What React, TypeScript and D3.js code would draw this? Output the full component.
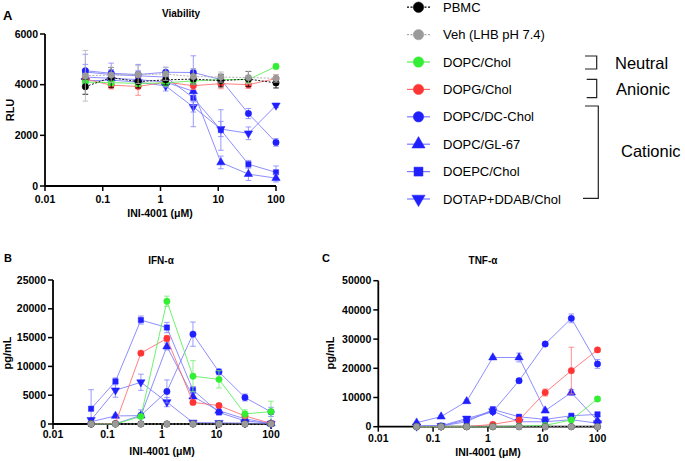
import React from 'react';
import * as d3 from 'd3';

// Dose series (µM) shared by all three panels
const doses = [0.05, 0.14, 0.41, 1.23, 3.7, 11.1, 33.3, 100];
const xTickValues = [0.01, 0.1, 1, 10, 100];
const xTickLabels = ['0.01', '0.1', '1', '10', '100'];

// Legend entries
const seriesNames = [
  'PBMC',
  'Veh (LHB pH 7.4)',
  'DOPC/Chol',
  'DOPG/Chol',
  'DOPC/DC-Chol',
  'DOPC/GL-67',
  'DOEPC/Chol',
  'DOTAP+DDAB/Chol',
];

// Panel A: viability (RLU)
const viabilityTicks = [0, 2000, 4000, 6000];
const pbmcViability = [3920, 4280, 4120, 4190, 4220, 4160, 4220, 4070];
const pbmcViabilityErr = [300, 400, 250, 200, 200, 250, 300, 200];
const vehViability = [4350, 4380, 4400, 4420, 4320, 4300, 4280, 4250];
const vehViabilityErr = [1000, 300, 350, 250, 300, 200, 250, 150];
const dopcViability = [4100, 4080, 4050, 4070, 4150, 4200, 4200, 4720];
const dopcViabilityErr = [120, 120, 120, 120, 150, 150, 150, 100];
const dopgViability = [4220, 3980, 3930, 4100, 3960, 4040, 4000, 4240];
const dopgViabilityErr = [150, 150, 350, 150, 150, 200, 150, 150];
const dcViability = [4550, 4450, 4400, 4490, 4480, 4200, 2860, 1720];
const dcViabilityErr = [650, 400, 400, 200, 150, 200, 200, 150];
const glViability = [4300, 4250, 4200, 4100, 3740, 930, 470, 310];
const glViabilityErr = [300, 300, 300, 200, 1400, 250, 250, 150];
const doepcViability = [4500, 4400, 4350, 4300, 3480, 2210, 860, 540];
const doepcViabilityErr = [300, 200, 200, 200, 300, 800, 150, 250];
const dotapViability = [4150, 4180, 4100, 3950, 3120, 2250, 2080, 3180];
const dotapViabilityErr = [200, 200, 200, 200, 200, 300, 250, 80];

// Panel B: IFN-α (pg/mL)
const ifnTicks = [0, 5000, 10000, 15000, 20000, 25000];
const pbmcIfn = [0, 0, 0, 0, 0, 0, 0, 0];
const pbmcIfnErr = [0, 0, 0, 0, 0, 0, 0, 0];
const vehIfn = [0, 0, 0, 0, 0, 0, 0, 0];
const vehIfnErr = [0, 0, 0, 0, 0, 0, 0, 0];
const dopcIfn = [0, 0, 1300, 21300, 8300, 7750, 1750, 2150];
const dopcIfnErr = [0, 0, 200, 900, 2700, 1500, 700, 1800];
const dopgIfn = [0, 100, 12300, 14850, 3750, 3200, 1400, 100];
const dopgIfnErr = [0, 0, 300, 500, 400, 300, 200, 50];
const dcIfn = [0, 50, 1500, 5650, 15600, 9050, 4600, 2100];
const dcIfnErr = [0, 0, 0, 2000, 2100, 500, 600, 800];
const glIfn = [400, 1400, 1450, 13450, 4750, 2300, 900, 80];
const glIfnErr = [200, 300, 1000, 600, 800, 300, 200, 50];
const doepcIfn = [2650, 7400, 18050, 16750, 5900, 2000, 550, 100];
const doepcIfnErr = [3300, 600, 700, 900, 600, 300, 200, 50];
const dotapIfn = [700, 5850, 7250, 3800, 250, 200, 150, 50];
const dotapIfnErr = [300, 1200, 1400, 800, 100, 100, 100, 50];

// Panel C: TNF-α (pg/mL)
const tnfTicks = [0, 10000, 20000, 30000, 40000, 50000];
const pbmcTnf = [0, 0, 0, 0, 0, 0, 0, 0];
const pbmcTnfErr = [0, 0, 0, 0, 0, 0, 0, 0];
const vehTnf = [0, 0, 0, 0, 0, 0, 0, 0];
const vehTnfErr = [0, 0, 0, 0, 0, 0, 0, 0];
const dopcTnf = [0, 0, 0, 0, 200, 450, 2300, 9500];
const dopcTnfErr = [0, 0, 0, 0, 0, 0, 300, 600];
const dopgTnf = [0, 0, 0, 800, 2300, 11700, 19200, 26300];
const dopgTnfErr = [0, 0, 0, 200, 300, 1200, 8000, 400];
const dcTnf = [150, 250, 2300, 5150, 15750, 28300, 37100, 21500];
const dcTnfErr = [0, 0, 300, 600, 600, 500, 1500, 1500];
const glTnf = [1370, 3450, 8700, 23700, 23700, 5500, 11700, 2050];
const glTnfErr = [200, 300, 500, 400, 1500, 600, 1000, 300];
const doepcTnf = [150, 250, 1700, 5900, 3400, 2500, 3750, 4200];
const doepcTnfErr = [100, 100, 800, 1000, 500, 300, 300, 800];
const dotapTnf = [100, 300, 2800, 5300, 1700, 1700, 2400, 1200];
const dotapTnfErr = [100, 100, 500, 800, 300, 300, 300, 300];

type Shape = 'circle' | 'triangle' | 'square' | 'triangleDown';
interface Style {
  fill: string;
  line: string;
  err: string;
  shape: Shape;
  dashed: boolean;
}

const BLUE: Omit<Style, 'shape'> = { fill: '#2020ff', line: '#7a7aff', err: '#8a8aff', dashed: false };
const styles: Style[] = [
  { fill: '#000000', line: '#000000', err: '#000000', shape: 'circle', dashed: true },
  { fill: '#9a9a9a', line: '#a8a8a8', err: '#b8b8b8', shape: 'circle', dashed: true },
  { fill: '#33ee33', line: '#55ee55', err: '#77ee77', shape: 'circle', dashed: false },
  { fill: '#ff3535', line: '#ff6a6a', err: '#ff8080', shape: 'circle', dashed: false },
  { ...BLUE, shape: 'circle' },
  { ...BLUE, shape: 'triangle' },
  { ...BLUE, shape: 'square' },
  { ...BLUE, shape: 'triangleDown' },
];

const FONT = '"Liberation Sans", Arial, sans-serif';

function symbolPath(shape: Shape, size: number): string {
  const type =
    shape === 'circle'
      ? d3.symbolCircle
      : shape === 'square'
      ? d3.symbolSquare
      : d3.symbolTriangle;
  return d3.symbol().type(type).size(size)() || '';
}

function Marker({ shape, size, fill, cx, cy }: { shape: Shape; size: number; fill: string; cx: number; cy: number }) {
  const rot = shape === 'triangleDown' ? ' rotate(180)' : '';
  return (
    <path
      d={symbolPath(shape, size)}
      transform={`translate(${cx},${cy})${rot}`}
      fill={fill}
      stroke={fill}
      strokeOpacity={0.5}
      strokeWidth={1}
    />
  );
}

interface SeriesData {
  values: number[];
  errors: number[];
}

interface PanelProps {
  x0: number;
  x1: number;
  yBottom: number;
  yTop: number;
  yMax: number;
  yTicks: number[];
  tickBaseline: number;
  data: SeriesData[]; // in legend order
}

// Series are painted blue first, then red, green, black and grey on top
const drawOrder = [7, 6, 5, 4, 3, 2, 0, 1];

function Panel({ x0, x1, yBottom, yTop, yMax, yTicks, tickBaseline, data }: PanelProps) {
  const x = d3.scaleLog().domain([0.01, 100]).range([x0, x1]);
  const y = d3.scaleLinear().domain([0, yMax]).range([yBottom, yTop]);
  const line = d3
    .line<number>()
    .x((_, i) => x(doses[i]))
    .y((d) => y(d));
  const cap = 2.8;

  return (
    <g>
      {/* axes */}
      <line x1={x0} x2={x1} y1={yBottom} y2={yBottom} stroke="#000" strokeWidth={1.8} />
      <line x1={x0} x2={x0} y1={yBottom} y2={yTop} stroke="#000" strokeWidth={1.8} />
      {xTickValues.map((t, i) => (
        <g key={`xt${i}`}>
          <line x1={x(t)} x2={x(t)} y1={yBottom} y2={yBottom + 5} stroke="#000" strokeWidth={1.5} />
          <text
            x={x(t)}
            y={tickBaseline}
            textAnchor="middle"
            fontFamily={FONT}
            fontWeight="bold"
            fontSize={10.5}
          >
            {xTickLabels[i]}
          </text>
        </g>
      ))}
      {yTicks.map((t, i) => (
        <g key={`yt${i}`}>
          <line x1={x0 - 5} x2={x0} y1={y(t)} y2={y(t)} stroke="#000" strokeWidth={1.5} />
          <text
            x={x0 - 7}
            y={y(t)}
            dy="0.35em"
            textAnchor="end"
            fontFamily={FONT}
            fontWeight="bold"
            fontSize={10.5}
          >
            {t}
          </text>
        </g>
      ))}
      {drawOrder.map((si) => {
        const st = styles[si];
        const s = data[si];
        return (
          <g key={`s${si}`}>
            <path
              d={line(s.values) || ''}
              fill="none"
              stroke={st.line}
              strokeWidth={1}
              strokeOpacity={st.dashed ? 0.9 : 0.85}
              strokeDasharray={st.dashed ? '2,1.5' : undefined}
            />
            {s.values.map((v, i) => {
              const e = s.errors[i];
              if (!e) return null;
              const cx = x(doses[i]);
              const lo = y(Math.max(0, v - e));
              const hi = y(v + e);
              return (
                <g key={`e${i}`} stroke={st.err} strokeWidth={1} strokeOpacity={0.85}>
                  <line x1={cx} x2={cx} y1={lo} y2={hi} />
                  <line x1={cx - cap} x2={cx + cap} y1={hi} y2={hi} />
                  <line x1={cx - cap} x2={cx + cap} y1={lo} y2={lo} />
                </g>
              );
            })}
            {s.values.map((v, i) => (
              <Marker
                key={`m${i}`}
                shape={st.shape}
                size={st.shape === 'circle' ? 32 : st.shape === 'square' ? 28 : 30}
                fill={st.fill}
                cx={x(doses[i])}
                cy={y(v)}
              />
            ))}
          </g>
        );
      })}
    </g>
  );
}

function bold(x: number, y: number, txt: string, size: number, anchor = 'start', rotate = false) {
  return (
    <text
      x={rotate ? 0 : x}
      y={rotate ? 0 : y}
      transform={rotate ? `translate(${x},${y}) rotate(-90)` : undefined}
      textAnchor={anchor}
      fontFamily={FONT}
      fontWeight="bold"
      fontSize={size}
    >
      {txt}
    </text>
  );
}

function Legend() {
  const mx = 418.5;
  return (
    <g>
      {seriesNames.map((name, i) => {
        const st = styles[i];
        const cy = 7.2 + 27.4 * i;
        return (
          <g key={name}>
            <line
              x1={407}
              x2={430}
              y1={cy}
              y2={cy}
              stroke={st.line}
              strokeWidth={1.2}
              strokeDasharray={st.dashed ? '2,1.5' : undefined}
            />
            <Marker shape={st.shape} size={st.shape === 'square' ? 80 : st.shape === 'circle' ? 85 : 75} fill={st.fill} cx={mx} cy={cy} />
            <text x={443} y={cy} dy="0.36em" fontFamily={FONT} fontSize={13}>
              {name}
            </text>
          </g>
        );
      })}
      <g fill="none" stroke="#222" strokeWidth={1.2}>
        <path d="M585,56 H596.7 V69 H585" />
        <path d="M586.7,79.3 H596.7 V97.7 H586.7" />
        <path d="M585,106 H598.3 V198.3 H583" />
      </g>
      <text x={615} y={63} dy="0.36em" fontFamily={FONT} fontSize={16.5}>
        Neutral
      </text>
      <text x={616} y={89.5} dy="0.36em" fontFamily={FONT} fontSize={16.5}>
        Anionic
      </text>
      <text x={621} y={151} dy="0.36em" fontFamily={FONT} fontSize={16.5}>
        Cationic
      </text>
    </g>
  );
}

export default function App() {
  const viability: SeriesData[] = [
    { values: pbmcViability, errors: pbmcViabilityErr },
    { values: vehViability, errors: vehViabilityErr },
    { values: dopcViability, errors: dopcViabilityErr },
    { values: dopgViability, errors: dopgViabilityErr },
    { values: dcViability, errors: dcViabilityErr },
    { values: glViability, errors: glViabilityErr },
    { values: doepcViability, errors: doepcViabilityErr },
    { values: dotapViability, errors: dotapViabilityErr },
  ];
  const ifn: SeriesData[] = [
    { values: pbmcIfn, errors: pbmcIfnErr },
    { values: vehIfn, errors: vehIfnErr },
    { values: dopcIfn, errors: dopcIfnErr },
    { values: dopgIfn, errors: dopgIfnErr },
    { values: dcIfn, errors: dcIfnErr },
    { values: glIfn, errors: glIfnErr },
    { values: doepcIfn, errors: doepcIfnErr },
    { values: dotapIfn, errors: dotapIfnErr },
  ];
  const tnf: SeriesData[] = [
    { values: pbmcTnf, errors: pbmcTnfErr },
    { values: vehTnf, errors: vehTnfErr },
    { values: dopcTnf, errors: dopcTnfErr },
    { values: dopgTnf, errors: dopgTnfErr },
    { values: dcTnf, errors: dcTnfErr },
    { values: glTnf, errors: glTnfErr },
    { values: doepcTnf, errors: doepcTnfErr },
    { values: dotapTnf, errors: dotapTnfErr },
  ];

  return (
    <div style={{ position: 'absolute', left: 0, top: 0 }}>
      <svg width={685} height={461} style={{ display: 'block', background: '#fff' }}>
        {/* Panel A */}
        {bold(3, 19.5, 'A', 13)}
        {bold(162, 17, 'Viability', 10)}
        {bold(14, 110, 'RLU', 11, 'middle', true)}
        {bold(160, 217, 'INI-4001 (μM)', 10.5, 'middle')}
        <Panel
          x0={45}
          x1={276}
          yBottom={186}
          yTop={34}
          yMax={6000}
          yTicks={viabilityTicks}
          tickBaseline={202.5}
          data={viability}
        />
        <Legend />

        {/* Panel B */}
        {bold(4, 262, 'B', 11)}
        {bold(161, 264, 'IFN-α', 10, 'middle')}
        {bold(11, 353, 'pg/mL', 11, 'middle', true)}
        {bold(162, 455, 'INI-4001 (μM)', 10.5, 'middle')}
        <Panel
          x0={53}
          x1={271}
          yBottom={424}
          yTop={280}
          yMax={25000}
          yTicks={ifnTicks}
          tickBaseline={438}
          data={ifn}
        />

        {/* Panel C */}
        {bold(322, 262, 'C', 11)}
        {bold(483, 264, 'TNF-α', 10, 'middle')}
        {bold(334, 353, 'pg/mL', 11, 'middle', true)}
        {bold(488, 456, 'INI-4001 (μM)', 10.5, 'middle')}
        <Panel
          x0={378.3}
          x1={597.5}
          yBottom={426.7}
          yTop={280.7}
          yMax={50000}
          yTicks={tnfTicks}
          tickBaseline={441.5}
          data={tnf}
        />
      </svg>
    </div>
  );
}
